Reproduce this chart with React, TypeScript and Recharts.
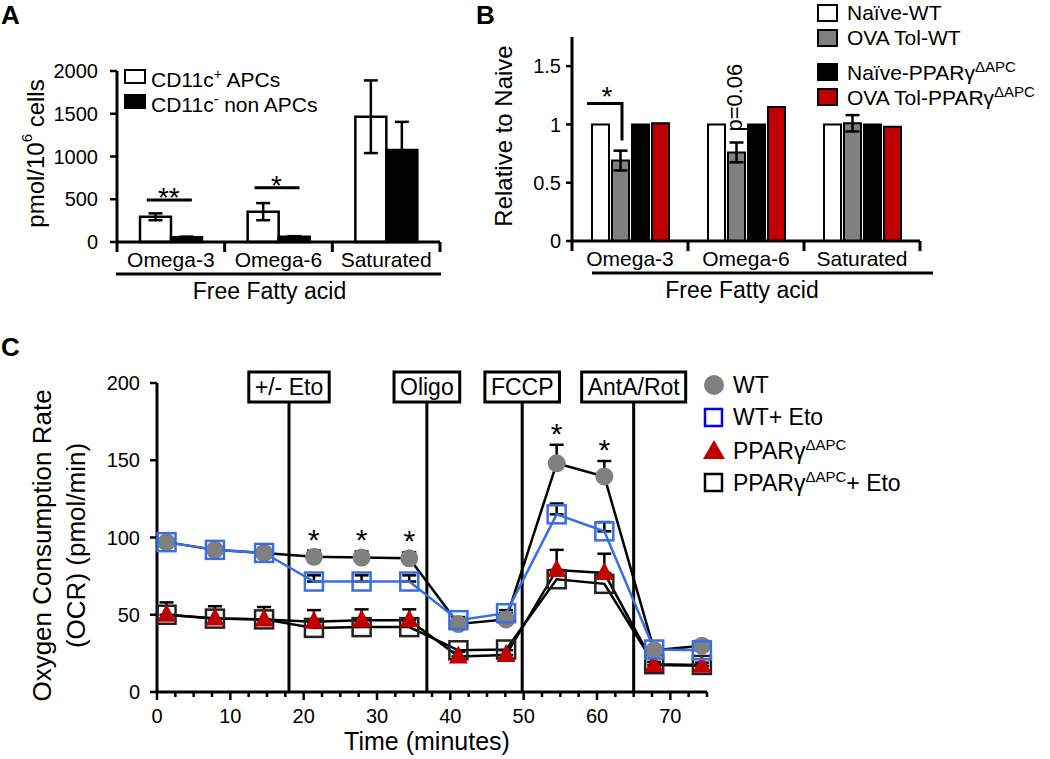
import React from "react";
import {
  ComposedChart,
  Bar,
  Line,
  Scatter,
  XAxis,
  YAxis,
  ErrorBar,
  ReferenceLine,
} from "recharts";

const FONT = "'Liberation Sans', Arial, Helvetica, sans-serif";
const INK = "#000";

// ---- panel A: FFA per cell type ----
const fattyAcids = ["Omega-3", "Omega-6", "Saturated"];
const apcMean = [295, 355, 1465];
const apcSem = [40, 100, 425];
const nonApcMean = [55, 60, 1075];
const nonApcSem = [8, 8, 330];
const sigA = ["**", "*", ""];
const sigAHeight = [490, 635, null];
const ticksA = [0, 500, 1000, 1500, 2000];

// ---- panel B: relative to naive ----
const naiveWT = [1, 1, 1];
const ovaTolWT = [0.69, 0.76, 1.01];
const ovaTolWTSem = [0.085, 0.085, 0.07];
const naivePPARg = [1, 1, 1];
const ovaTolPPARg = [1.01, 1.15, 0.98];
const sigB = ["*", "p=0.06", ""];
const sigBHeight = [1.18, 1.23, null];
const ticksB = [0, 0.5, 1, 1.5];

// ---- panel C: seahorse OCR ----
const timeMin = [1.3, 7.9, 14.6, 21.4, 27.9, 34.4, 41.1, 47.6, 54.5, 61.0, 67.8, 74.3];
const ocrWT = [97, 92, 90, 87.5, 87, 86.5, 44, 47, 148, 139.5, 27, 30];
const ocrWTSem = [2, 2, 2, 4, 4, 4, 2, 2, 12, 10, 2, 2];
const ocrWTEto = [97, 92, 90, 71.5, 71.5, 71.5, 46.5, 51, 115, 104, 27.5, 27];
const ocrWTEtoSem = [2, 2, 2, 4, 4, 4, 2, 2, 7, 6, 2, 2];
const ocrPPARg = [50, 47.5, 47, 45.5, 46.5, 46.5, 23, 24, 79, 77, 17.5, 17];
const ocrPPARgSem = [8, 8, 8, 7.5, 7, 7, 3, 3, 13, 12.5, 2, 2];
const ocrPPARgEto = [50, 47.5, 47, 41.5, 42, 42, 27, 27.5, 73, 70, 18, 17.5];
const sigC = ["", "", "", "*", "*", "*", "", "", "*", "*", "", ""];
const injectionTimes = [18, 36.8, 49.8, 65];
const injectionLabels = ["+/- Eto", "Oligo", "FCCP", "AntA/Rot"];
const timeTicks = [0, 2.5, 5, 7.5, 10, 12.5, 15, 17.5, 20, 22.5, 25, 27.5, 30, 32.5, 35, 37.5, 40, 42.5, 45, 47.5, 50, 52.5, 55, 57.5, 60, 62.5, 65, 67.5, 70, 72.5, 75];
const ocrTicks = [0, 50, 100, 150, 200];

const dataA = fattyAcids.map((name, i) => ({
  name,
  apc: apcMean[i],
  apcErr: apcSem[i],
  non: nonApcMean[i],
  nonErr: nonApcSem[i],
  sig: sigA[i],
  sigY: sigAHeight[i],
}));

const dataB = fattyAcids.map((name, i) => ({
  name,
  naiveWT: naiveWT[i],
  ovaWT: ovaTolWT[i],
  ovaWTErr: ovaTolWTSem[i],
  naivePPARg: naivePPARg[i],
  ovaPPARg: ovaTolPPARg[i],
  sig: sigB[i],
  sigY: sigBHeight[i],
}));

const dataC = timeMin.map((t, i) => ({
  t,
  wt: ocrWT[i],
  wtErr: [0, ocrWTSem[i]],
  wtEto: ocrWTEto[i],
  wtEtoErr: [0, ocrWTEtoSem[i]],
  ppar: ocrPPARg[i],
  pparErr: [0, ocrPPARgSem[i]],
  pparEto: ocrPPARgEto[i],
  sig: sigC[i],
  sigY: sigC[i] ? ocrWT[i] + ocrWTSem[i] : null,
}));

const measureCtx =
  typeof document !== "undefined" ? document.createElement("canvas").getContext("2d") : null;
function textWidth(s: string, size: number) {
  if (!measureCtx) return s.length * size * 0.55;
  measureCtx.font = `${size}px ${FONT}`;
  return measureCtx.measureText(s).width;
}

// category ticks drawn at the band edges, label in the middle
function categoryTick(band: number, last: string) {
  return (props: any) => {
    const { x, y, payload } = props;
    return (
      <g>
        <line x1={x - band / 2} x2={x - band / 2} y1={y} y2={y + 10} stroke={INK} strokeWidth={3} />
        {payload.value === last && (
          <line x1={x + band / 2} x2={x + band / 2} y1={y} y2={y + 10} stroke={INK} strokeWidth={3} />
        )}
        <text x={x} y={y + 25} textAnchor="middle" fontSize={21} fontFamily={FONT} fill={INK}>
          {payload.value}
        </text>
      </g>
    );
  };
}

function fattyTitle(dx1: number, dx2: number, dxText: number) {
  return (props: any) => {
    const vb = props.viewBox;
    const y = vb.y + 32;
    return (
      <g>
        <line x1={vb.x + dx1} x2={vb.x + vb.width + dx2} y1={y} y2={y} stroke={INK} strokeWidth={3} />
        <text x={vb.x + vb.width / 2 + dxText} y={y + 25} textAnchor="middle" fontSize={23} fontFamily={FONT} fill={INK}>
          Free Fatty acid
        </text>
      </g>
    );
  };
}

const sigShapeA = (p: any) => {
  const label = p.payload?.sig;
  if (!label) return <g />;
  return (
    <g>
      <line x1={p.cx - 24} x2={p.cx + 21} y1={p.cy} y2={p.cy} stroke={INK} strokeWidth={3} />
      <text x={p.cx - 2} y={p.cy + 7} textAnchor="middle" fontSize={28} fontFamily={FONT}>
        {label}
      </text>
    </g>
  );
};

const sigShapeB = (p: any) => {
  const label = p.payload?.sig;
  if (!label) return <g />;
  if (label.startsWith("p")) {
    const x = p.cx - 11;
    return (
      <text
        x={x}
        y={p.cy}
        transform={`rotate(-90 ${x} ${p.cy})`}
        textAnchor="middle"
        dominantBaseline="central"
        fontSize={22}
        fontFamily={FONT}
      >
        {label}
      </text>
    );
  }
  return (
    <g>
      <path
        d={`M${p.cx - 43},${p.cy} L${p.cx - 8},${p.cy} L${p.cx - 8},${p.cy + 37}`}
        fill="none"
        stroke={INK}
        strokeWidth={3}
      />
      <text x={p.cx - 23} y={p.cy + 3} textAnchor="middle" fontSize={28} fontFamily={FONT}>
        {label}
      </text>
    </g>
  );
};

const sigShapeC = (p: any) => {
  const label = p.payload?.sig;
  if (!label) return <g />;
  return (
    <text x={p.cx} y={p.cy - 1} textAnchor="middle" fontSize={30} fontFamily={FONT}>
      {label}
    </text>
  );
};

const axisLine = { stroke: INK, strokeWidth: 3 };
const tickLine = { stroke: INK, strokeWidth: 2.5 };
const tickText = { fill: INK, fontSize: 20, fontFamily: FONT };

function PanelA() {
  return (
    <div style={{ position: "absolute", left: 0, top: 0 }}>
      <ComposedChart
        width={460}
        height={320}
        data={dataA}
        margin={{ top: 71, right: 20, bottom: 48, left: 57 }}
        barGap={0}
      >
        <XAxis
          dataKey="name"
          height={30}
          interval={0}
          axisLine={axisLine}
          tickLine={false}
          tickSize={0}
          tickMargin={0}
          tick={categoryTick(323 / 3, "Saturated")}
          label={{ content: fattyTitle(-1, 1, -9) }}
        />
        <YAxis
          width={60}
          domain={[0, 2000]}
          ticks={ticksA}
          interval={0}
          axisLine={axisLine}
          tickLine={tickLine}
          tickSize={7}
          tickMargin={12}
          tick={tickText}
          label={{
            content: (props: any) => {
              const vb = props.viewBox;
              const cx = 35;
              const cy = vb.y + vb.height / 2 - 3;
              return (
                <text
                  x={cx}
                  y={cy}
                  transform={`rotate(-90 ${cx} ${cy})`}
                  textAnchor="middle"
                  dominantBaseline="central"
                  fontSize={24}
                  fontFamily={FONT}
                >
                  pmol/10
                  <tspan dy={-9} fontSize={15}>6</tspan>
                  <tspan dy={9}> cells</tspan>
                </text>
              );
            },
          }}
        />
        <Bar dataKey="apc" fill="#fff" stroke={INK} strokeWidth={2.5} barSize={31} isAnimationActive={false}>
          <ErrorBar dataKey="apcErr" width={7} stroke={INK} strokeWidth={2.5} />
        </Bar>
        <Bar dataKey="non" fill="#000" stroke={INK} strokeWidth={2.5} barSize={31} isAnimationActive={false}>
          <ErrorBar dataKey="nonErr" width={7} stroke={INK} strokeWidth={2.5} />
        </Bar>
        <Scatter dataKey="sigY" shape={sigShapeA} isAnimationActive={false} />
      </ComposedChart>
      <div style={{ position: "absolute", left: 124, top: 64, fontFamily: FONT, fontSize: 21, lineHeight: "25px" }}>
        {[
          { fill: "#fff", sup: "+", rest: " APCs" },
          { fill: "#000", sup: "-", rest: " non APCs" },
        ].map((r) => (
          <div key={r.rest} style={{ display: "flex", alignItems: "center", height: 25, whiteSpace: "nowrap" }}>
            <span style={{ width: 18, height: 11, border: "2px solid #000", background: r.fill, marginRight: 5 }} />
            <span>
              CD11c<sup style={{ fontSize: 14 }}>{r.sup}</sup>
              {r.rest}
            </span>
          </div>
        ))}
      </div>
    </div>
  );
}

function PanelB() {
  const legendRows = [
    { fill: "#fff", name: "Naïve-WT", sup: "", gap: 0 },
    { fill: "#808080", name: "OVA Tol-WT", sup: "", gap: 0 },
    { fill: "#000", name: "Naïve-PPARγ", sup: "ΔAPC", gap: 9 },
    { fill: "#c00000", name: "OVA Tol-PPARγ", sup: "ΔAPC", gap: 0 },
  ];
  return (
    <div style={{ position: "absolute", left: 470, top: 0 }}>
      <ComposedChart
        width={580}
        height={320}
        data={dataB}
        margin={{ top: 37, right: 130, bottom: 49, left: 42 }}
        barGap={3}
      >
        <XAxis
          dataKey="name"
          height={30}
          interval={0}
          axisLine={axisLine}
          tickLine={false}
          tickSize={0}
          tickMargin={0}
          tick={categoryTick(116, "Saturated")}
          label={{ content: fattyTitle(20, 13, -4) }}
        />
        <YAxis
          width={60}
          domain={[0, 1.75]}
          ticks={ticksB}
          interval={0}
          axisLine={axisLine}
          tickLine={tickLine}
          tickSize={6}
          tickMargin={5}
          tick={tickText}
          label={{
            content: (props: any) => {
              const vb = props.viewBox;
              const cx = 33;
              const cy = vb.y + vb.height / 2 - 3;
              return (
                <text
                  x={cx}
                  y={cy}
                  transform={`rotate(-90 ${cx} ${cy})`}
                  textAnchor="middle"
                  dominantBaseline="central"
                  fontSize={24}
                  fontFamily={FONT}
                >
                  Relative to Naive
                </text>
              );
            },
          }}
        />
        <Bar dataKey="naiveWT" fill="#fff" stroke={INK} strokeWidth={2} barSize={17} isAnimationActive={false} />
        <Bar dataKey="ovaWT" fill="#808080" stroke={INK} strokeWidth={2} barSize={17} isAnimationActive={false}>
          <ErrorBar dataKey="ovaWTErr" width={7} stroke={INK} strokeWidth={2.5} />
        </Bar>
        <Bar dataKey="naivePPARg" fill="#000" stroke={INK} strokeWidth={2} barSize={17} isAnimationActive={false} />
        <Bar dataKey="ovaPPARg" fill="#c00000" stroke={INK} strokeWidth={2} barSize={17} isAnimationActive={false} />
        <Scatter dataKey="sigY" shape={sigShapeB} isAnimationActive={false} />
      </ComposedChart>
      <div style={{ position: "absolute", left: 347, top: 0, fontFamily: FONT, fontSize: 21 }}>
        {legendRows.map((r) => (
          <div
            key={r.name}
            style={{ display: "flex", alignItems: "center", height: 25, marginTop: r.gap, whiteSpace: "nowrap" }}
          >
            <span style={{ width: 17, height: 14, border: "2px solid #000", background: r.fill, marginRight: 9 }} />
            <span>
              {r.name}
              {r.sup && <sup style={{ fontSize: 15 }}>{r.sup}</sup>}
            </span>
          </div>
        ))}
      </div>
    </div>
  );
}

const grayCircle = (p: any) => <circle key={`c${p.index}`} cx={p.cx} cy={p.cy} r={9} fill="#808080" />;
const blueSquare = (p: any) => (
  <rect key={`b${p.index}`} x={p.cx - 9} y={p.cy - 9} width={18} height={18} fill="none" stroke="#3a6fe0" strokeWidth={2.5} />
);
const redTriangle = (p: any) => (
  <path
    key={`r${p.index}`}
    d={`M${p.cx},${p.cy - 11} L${p.cx + 9.5},${p.cy + 7} L${p.cx - 9.5},${p.cy + 7} Z`}
    fill="#c00000"
  />
);
const blackSquare = (p: any) => (
  <rect key={`k${p.index}`} x={p.cx - 9} y={p.cy - 9} width={18} height={18} fill="none" stroke="#222" strokeWidth={2.5} />
);

const timeTick = (props: any) => {
  const { x, y, payload } = props;
  const major = payload.value % 10 === 0;
  return (
    <g>
      <line x1={x} x2={x} y1={y} y2={y + (major ? 8 : 5)} stroke={INK} strokeWidth={2.5} />
      {major && (
        <text x={x} y={y + 31} textAnchor="middle" fontSize={20} fontFamily={FONT} fill={INK}>
          {payload.value}
        </text>
      )}
    </g>
  );
};

function injectionBox(label: string) {
  return (props: any) => {
    const vb = props.viewBox;
    const w = textWidth(label, 23) + 12;
    return (
      <g>
        <rect x={vb.x - w / 2} y={vb.y - 11} width={w} height={30} fill="#fff" stroke={INK} strokeWidth={3} />
        <text x={vb.x} y={vb.y + 12} textAnchor="middle" fontSize={23} fontFamily={FONT} fill={INK}>
          {label}
        </text>
      </g>
    );
  };
}

function PanelC() {
  const legend = [
    { key: "wt", marker: <circle cx={12} cy={12} r={10} fill="#808080" />, text: <>WT</> },
    {
      key: "wtEto",
      marker: <rect x={3} y={3} width={17} height={17} fill="none" stroke="#0000ff" strokeWidth={2.5} />,
      text: <>WT+ Eto</>,
    },
    {
      key: "ppar",
      marker: <path d="M12,2 L23,21 L1,21 Z" fill="#c00000" />,
      text: (
        <>
          PPARγ<sup style={{ fontSize: 15 }}>ΔAPC</sup>
        </>
      ),
    },
    {
      key: "pparEto",
      marker: <rect x={3} y={3} width={17} height={17} fill="none" stroke="#000" strokeWidth={2.5} />,
      text: (
        <>
          PPARγ<sup style={{ fontSize: 15 }}>ΔAPC</sup>+ Eto
        </>
      ),
    },
  ];
  return (
    <div style={{ position: "absolute", left: 0, top: 300 }}>
      <ComposedChart
        width={1050}
        height={459}
        data={dataC}
        margin={{ top: 83, right: 343, bottom: 27, left: 97 }}
      >
        <XAxis
          type="number"
          dataKey="t"
          domain={[0, 75]}
          ticks={timeTicks}
          interval={0}
          height={40}
          axisLine={axisLine}
          tickLine={false}
          tickSize={0}
          tickMargin={0}
          tick={timeTick}
          label={{
            content: (props: any) => {
              const vb = props.viewBox;
              return (
                <text x={vb.x + vb.width / 2 - 5} y={vb.y + 58} textAnchor="middle" fontSize={25} fontFamily={FONT}>
                  Time (minutes)
                </text>
              );
            },
          }}
        />
        <YAxis
          width={60}
          domain={[0, 200]}
          ticks={ocrTicks}
          interval={0}
          axisLine={axisLine}
          tickLine={tickLine}
          tickSize={7}
          tickMargin={10}
          tick={tickText}
          label={{
            content: (props: any) => {
              const vb = props.viewBox;
              const cy = vb.y + vb.height / 2 + 8;
              return (
                <g>
                  <text x={42} y={cy} transform={`rotate(-90 42 ${cy})`} textAnchor="middle" dominantBaseline="central" fontSize={26} fontFamily={FONT}>
                    Oxygen Consumption Rate
                  </text>
                  <text x={76} y={cy} transform={`rotate(-90 76 ${cy})`} textAnchor="middle" dominantBaseline="central" fontSize={26} fontFamily={FONT}>
                    (OCR) (pmol/min)
                  </text>
                </g>
              );
            },
          }}
        />
        {injectionTimes.map((t, i) => (
          <ReferenceLine
            key={injectionLabels[i]}
            x={t}
            stroke={INK}
            strokeWidth={3}
            label={{ content: injectionBox(injectionLabels[i]) }}
          />
        ))}
        <Line dataKey="pparEto" stroke={INK} strokeWidth={2.5} dot={blackSquare} activeDot={false} isAnimationActive={false} />
        <Line dataKey="ppar" stroke={INK} strokeWidth={2.5} dot={redTriangle} activeDot={false} isAnimationActive={false}>
          <ErrorBar dataKey="pparErr" width={7} stroke={INK} strokeWidth={2.5} direction="y" />
        </Line>
        <Line dataKey="wt" stroke={INK} strokeWidth={2.5} dot={grayCircle} activeDot={false} isAnimationActive={false}>
          <ErrorBar dataKey="wtErr" width={7} stroke={INK} strokeWidth={2.5} direction="y" />
        </Line>
        <Line dataKey="wtEto" stroke="#3a6fe0" strokeWidth={2.5} dot={blueSquare} activeDot={false} isAnimationActive={false}>
          <ErrorBar dataKey="wtEtoErr" width={7} stroke={INK} strokeWidth={2.5} direction="y" />
        </Line>
        <Scatter dataKey="sigY" shape={sigShapeC} isAnimationActive={false} />
      </ComposedChart>
      <div style={{ position: "absolute", left: 702, top: 69, fontFamily: FONT, fontSize: 23 }}>
        {legend.map((r) => (
          <div key={r.key} style={{ display: "flex", alignItems: "center", height: 32.5, whiteSpace: "nowrap" }}>
            <svg width={24} height={24} style={{ marginRight: 7 }}>
              {r.marker}
            </svg>
            <span>{r.text}</span>
          </div>
        ))}
      </div>
    </div>
  );
}

export default function App() {
  return (
    <div style={{ position: "absolute", left: 0, top: 0, width: 1050, height: 759, background: "#fff", fontFamily: FONT }}>
      <PanelC />
      <PanelA />
      <PanelB />
      <svg width={1050} height={759} style={{ position: "absolute", left: 0, top: 0, pointerEvents: "none" }}>
        <text x={1} y={24} fontSize={26} fontWeight="bold" fontFamily={FONT}>A</text>
        <text x={476} y={24} fontSize={26} fontWeight="bold" fontFamily={FONT}>B</text>
        <text x={1} y={356} fontSize={26} fontWeight="bold" fontFamily={FONT}>C</text>
      </svg>
    </div>
  );
}
